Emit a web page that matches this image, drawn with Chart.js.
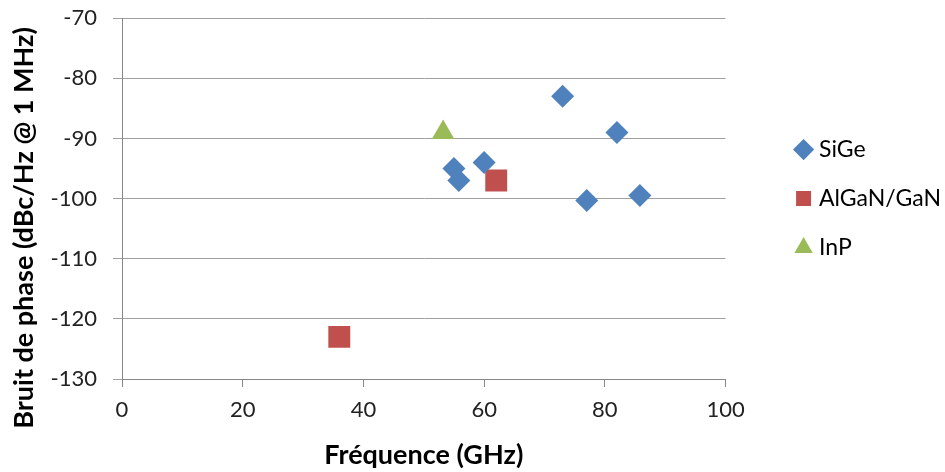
<!DOCTYPE html>
<html>
<head>
<meta charset="utf-8">
<script src="https://cdn.jsdelivr.net/npm/chart.js@4"></script>
<style>
  html, body { margin: 0; padding: 0; background: #fff; }
  #wrap { width: 945px; height: 472px; }
</style>
</head>
<body>
<div id="wrap"><canvas id="myChart"></canvas></div>
<script>
// data
const sigeFreq = [55, 55.8, 60, 73, 77, 82, 85.8]
const sigeNoise = [-95, -97, -94, -83, -100.3, -89, -99.5]
const ganFreq = [36, 62]
const ganNoise = [-123, -97]
const inpFreq = [53.2]
const inpNoise = [-89]

const xTicks = [0, 20, 40, 60, 80, 100]
const yTicks = [-130, -120, -110, -100, -90, -80, -70]
const seriesNames = ["SiGe", "AlGaN/GaN", "InP"]
const yTitle = "Bruit de phase (dBc/Hz @ 1 MHz)"
const xTitle = "Fréquence (GHz)"

function pts(xs, ys) {
    return xs.map((x, i) => ({ x: x, y: ys[i] }))
}

const yTitlePlugin = {
    id: 'yTitle',
    afterDraw(chart) {
        const ctx = chart.ctx
        ctx.save()
        ctx.translate(24, 228)
        ctx.rotate(-Math.PI / 2)
        ctx.font = 'bold 27px Lato'
        ctx.fillStyle = '#000'
        ctx.textAlign = 'center'
        ctx.textBaseline = 'middle'
        ctx.fillText(yTitle, 0, 0)
        ctx.restore()
    }
}

new Chart("myChart", {
    type: "scatter",
    data: {
        datasets: [{
            label: seriesNames[0],
            data: pts(sigeFreq, sigeNoise),
            pointStyle: 'rectRot',
            pointRadius: 11.5,
            backgroundColor: '#4F81BD',
            borderColor: '#4F81BD',
            borderWidth: 0
        }, {
            label: seriesNames[1],
            data: pts(ganFreq, ganNoise),
            pointStyle: 'rect',
            pointRadius: 15.5,
            backgroundColor: '#C0504D',
            borderColor: '#C0504D',
            borderWidth: 0
        }, {
            label: seriesNames[2],
            data: pts(inpFreq, inpNoise),
            pointStyle: 'triangle',
            pointRadius: 13,
            backgroundColor: '#9BBB59',
            borderColor: '#9BBB59',
            borderWidth: 0
        }]
    },
    options: {
        responsive: true,
        maintainAspectRatio: false,
        animation: false,
        layout: { padding: { top: 5, right: -6, left: 0, bottom: 0 } },
        plugins: {
            tooltip: { enabled: false },
            legend: {
                position: 'right',
                fullSize: false,
                maxWidth: 300,
                labels: {
                    usePointStyle: true,
                    boxWidth: 8,
                    boxHeight: 15,
                    padding: 26,
                    color: '#000',
                    font: { family: 'Lato', size: 23 }
                }
            }
        },
        scales: {
            x: {
                type: 'linear',
                min: 0,
                max: 100,
                afterBuildTicks(s) { s.ticks = xTicks.map(v => ({ value: v })) },
                afterFit(s) { s.height = 93 },
                grid: { drawOnChartArea: false, drawTicks: true, tickLength: 8, color: '#888' },
                border: { color: '#888' },
                ticks: { padding: 10, color: '#222', font: { family: 'Lato', size: 22 } },
                title: {
                    display: true,
                    text: xTitle,
                    color: '#000',
                    padding: { top: 0, bottom: 1 },
                    font: { family: 'Lato', size: 27, weight: 'bold' }
                }
            },
            y: {
                min: -130,
                max: -70,
                afterBuildTicks(s) { s.ticks = yTicks.map(v => ({ value: v })) },
                afterFit(s) { s.width = 122 },
                grid: { color: '#a0a0a0', tickLength: 9 },
                border: { color: '#888' },
                ticks: { padding: 16, color: '#222', font: { family: 'Lato', size: 22, lineHeight: 0.2 } }
            },
            y2: {
                position: 'right',
                display: true,
                afterFit(s) { s.width = 48 },
                grid: { display: false },
                border: { display: false },
                ticks: { display: false }
            }
        }
    },
    plugins: [yTitlePlugin]
});
</script>
</body>
</html>
